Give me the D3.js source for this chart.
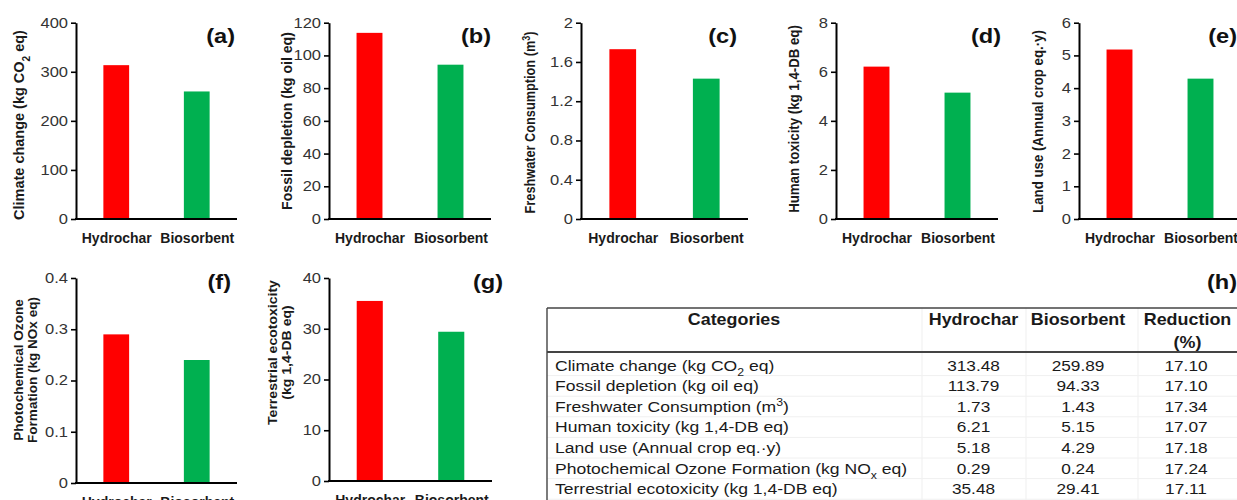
<!DOCTYPE html>
<html>
<head>
<meta charset="utf-8">
<script src="https://cdn.jsdelivr.net/npm/d3@7"></script>
<style>
  body { margin: 0; background: #fff; }
  svg { display: block; font-family: "Liberation Sans", Arial, sans-serif; }
</style>
</head>
<body>
<svg id="chart" width="1237" height="500"></svg>
<script>
// ---- data ----
const materials = ["Hydrochar", "Biosorbent"];
const climateChange = [313.48, 259.89];
const fossilDepletion = [113.79, 94.33];
const freshwaterUse = [1.73, 1.43];
const humanToxicity = [6.21, 5.15];
const landUse = [5.18, 4.29];
const ozoneFormation = [0.29, 0.24];
const terrestrialEcotox = [35.48, 29.41];
const reductionPct = [17.10, 17.10, 17.34, 17.07, 17.18, 17.24, 17.11];

const climateTicks = [0, 100, 200, 300, 400];
const fossilTicks = [0, 20, 40, 60, 80, 100, 120];
const freshwaterTicks = [0, 0.4, 0.8, 1.2, 1.6, 2];
const humanTicks = [0, 2, 4, 6, 8];
const landTicks = [0, 1, 2, 3, 4, 5, 6];
const ozoneTicks = [0, 0.1, 0.2, 0.3, 0.4];
const ecotoxTicks = [0, 10, 20, 30, 40];

// _{..} = subscript, ^{..} = superscript
const impactCategories = [
  "Climate change (kg CO_{2} eq)",
  "Fossil depletion (kg oil eq)",
  "Freshwater Consumption (m^{3})",
  "Human toxicity (kg 1,4-DB eq)",
  "Land use (Annual crop eq.\u00b7y)",
  "Photochemical Ozone Formation (kg NO_{x} eq)",
  "Terrestrial ecotoxicity (kg 1,4-DB eq)"
];
const tableHeaders = ["Categories", "Hydrochar", "Biosorbent", "Reduction"];

// ---- styling / layout ----
const RED = "#ff0000", GREEN = "#00b050";
const TEXT = "#1a1a1a";
const SX = 1.18; // horizontal glyph stretch of the lettering

const svg = d3.select("#chart");

function richText(sel, str) {
  const parts = str.split(/(_\{[^}]*\}|\^\{[^}]*\})/).filter(s => s.length);
  parts.forEach(p => {
    if (p.startsWith("_{")) {
      sel.append("tspan").attr("baseline-shift", "sub").attr("font-size", "70%").text(p.slice(2, -1));
    } else if (p.startsWith("^{")) {
      sel.append("tspan").attr("baseline-shift", "super").attr("font-size", "70%").text(p.slice(2, -1));
    } else {
      sel.append("tspan").text(p);
    }
  });
  return sel;
}

function stretched(parent, x, y, str, o) {
  const g = parent.append("g").attr("transform", `translate(${x},${y}) scale(${o.sx || SX},1)`);
  const t = g.append("text")
    .attr("text-anchor", o.anchor || "start")
    .attr("font-size", o.size)
    .attr("font-weight", o.weight || "normal")
    .attr("fill", o.fill || TEXT);
  richText(t, str);
  return t;
}

const panels = [
  { key: "(a)", values: climateChange, ticks: climateTicks, title: ["Climate change (kg CO_{2} eq)"],
    x0: 76, x1: 237, yTop: 22.7, yZero: 219, tx: [24], ty: 125, tlen: 190, lx: 235, ly: 43 },
  { key: "(b)", values: fossilDepletion, ticks: fossilTicks, title: ["Fossil depletion (kg oil eq)"],
    x0: 329, x1: 491, yTop: 22.7, yZero: 219, tx: [292], ty: 121, tlen: 178, lx: 491, ly: 43 },
  { key: "(c)", values: freshwaterUse, ticks: freshwaterTicks, title: ["Freshwater Consumption (m^{3})"],
    x0: 581, x1: 748, yTop: 22.7, yZero: 219, tx: [535], ty: 122.5, tlen: 182, lx: 737, ly: 43 },
  { key: "(d)", values: humanToxicity, ticks: humanTicks, title: ["Human toxicity  (kg 1,4-DB eq)"],
    x0: 836, x1: 998, yTop: 22.7, yZero: 219, tx: [799], ty: 119, tlen: 188, lx: 1001, ly: 43 },
  { key: "(e)", values: landUse, ticks: landTicks, title: ["Land use (Annual crop eq.\u00b7y)"],
    x0: 1079, x1: 1241, yTop: 22.7, yZero: 219, tx: [1043], ty: 121.5, tlen: 183, lx: 1237, ly: 43 },
  { key: "(f)", values: ozoneFormation, ticks: ozoneTicks, title: ["Photochemical Ozone", "Formation (kg NOx eq)"],
    x0: 76, x1: 237, yTop: 278, yZero: 483, tx: [23, 36.5], ty: 370, tlen: 146, lx: 231, ly: 289 },
  { key: "(g)", values: terrestrialEcotox, ticks: ecotoxTicks, title: ["Terrestrial ecotoxicity", "(kg 1,4-DB eq)"],
    x0: 329, x1: 492, yTop: 278, yZero: 481, tx: [276.5, 290.5], ty: 352.5, tlen: 145, lx: 503, ly: 289 }
];

panels.forEach(p => {
  const g = svg.append("g");
  const x = d3.scalePoint().domain(materials).range([p.x0, p.x1]).padding(0.5);
  const y = d3.scaleLinear().domain([0, d3.max(p.ticks)]).range([p.yZero, p.yTop]);
  const bw = x.step() * 0.32;

  // bars
  g.selectAll("rect").data(materials).join("rect")
    .attr("x", d => x(d) - bw / 2)
    .attr("y", (d, i) => y(p.values[i]))
    .attr("width", bw)
    .attr("height", (d, i) => y(0) - y(p.values[i]))
    .attr("fill", (d, i) => i === 0 ? RED : GREEN);

  // y axis
  const ya = g.append("g").attr("transform", `translate(${p.x0},0)`)
    .call(d3.axisLeft(y).tickValues(p.ticks).tickFormat(d => String(d)).tickSize(5).tickSizeOuter(0).tickPadding(3));
  ya.select(".domain").attr("stroke", "#000").attr("stroke-width", 2);
  ya.selectAll(".tick line").attr("stroke", "#000").attr("stroke-width", 1.6);
  ya.selectAll(".tick text")
    .attr("font-size", 14).attr("fill", "#333").attr("font-family", null)
    .attr("transform", `translate(-8,0) scale(${SX},1)`).attr("x", 0);

  // x axis with material labels
  const xa = g.append("g").attr("transform", `translate(0,${p.yZero})`)
    .call(d3.axisBottom(x).tickSize(0).tickSizeOuter(0).tickPadding(14));
  xa.select(".domain").attr("stroke", "#000").attr("stroke-width", 2)
    .attr("d", `M${p.x0 - 1},0H${p.x1}`);
  xa.selectAll(".tick text")
    .attr("font-size", 14).attr("font-weight", "bold").attr("fill", TEXT).attr("font-family", null);

  // axis title (rotated, condensed to its printed length)
  const single = p.title.length === 1;
  const titles = p.title.map((line, i) => {
    const t = svg.append("text")
      .attr("text-anchor", "middle")
      .attr("font-size", single ? 14.5 : 13.5).attr("font-weight", "bold").attr("fill", TEXT);
    richText(t, line);
    return { t, i };
  });
  const maxLen = d3.max(titles, d => d.t.node().getComputedTextLength());
  const s = p.tlen / maxLen;
  titles.forEach(({ t, i }) => t.attr("transform", `translate(${p.tx[i]},${p.ty}) rotate(-90) scale(${s.toFixed(3)},1)`));

  // panel key
  stretched(svg, p.lx, p.ly, p.key, { anchor: "end", size: 20, weight: "bold", sx: 1.18, fill: "#111" });
});

// ---- table (h) ----
stretched(svg, 1237, 289, "(h)", { anchor: "end", size: 20, weight: "bold", sx: 1.18, fill: "#111" });

const tbl = svg.append("g");
const tLeft = 547, tRight = 1245, tTop = 308, tHead = 352, rowH = 20.6, rowStart = 355;
const colLines = [922, 1026, 1138];
const colCenters = [973.5, 1078, 1186];
const tBottom = 520;

// faint grid
colLines.forEach(cx => tbl.append("line").attr("x1", cx).attr("x2", cx).attr("y1", tTop).attr("y2", tBottom)
  .attr("stroke", "#efefef").attr("stroke-width", 1));
impactCategories.forEach((c, i) => {
  const yb = rowStart + rowH * (i + 1);
  tbl.append("line").attr("x1", tLeft).attr("x2", tRight).attr("y1", yb).attr("y2", yb)
    .attr("stroke", "#f0f0f0").attr("stroke-width", 1);
});

// borders
tbl.append("line").attr("x1", tLeft).attr("x2", tRight).attr("y1", tTop).attr("y2", tTop)
  .attr("stroke", "#444").attr("stroke-width", 1.4);
tbl.append("line").attr("x1", tLeft).attr("x2", tLeft).attr("y1", tTop).attr("y2", tBottom)
  .attr("stroke", "#444").attr("stroke-width", 1.4);
tbl.append("line").attr("x1", tLeft).attr("x2", tRight).attr("y1", tHead).attr("y2", tHead)
  .attr("stroke", "#444").attr("stroke-width", 2.2);

// header
stretched(tbl, 734, 325, tableHeaders[0], { anchor: "middle", size: 16, weight: "bold", sx: 1.12 });
tableHeaders.slice(1).forEach((h, i) => {
  stretched(tbl, colCenters[i] + (i === 2 ? 1.5 : 0), 325, h, { anchor: "middle", size: 16, weight: "bold", sx: 1.12 });
});
stretched(tbl, colCenters[2] + 1.5, 347.5, "(%)", { anchor: "middle", size: 16, weight: "bold", sx: 1.12 });

// body rows
const fmt = d3.format(".2f");
const impactSeries = [climateChange, fossilDepletion, freshwaterUse, humanToxicity, landUse, ozoneFormation, terrestrialEcotox];
impactCategories.forEach((c, i) => {
  const yb = rowStart + rowH * i + rowH / 2 + 5.2;
  stretched(tbl, 555, yb, c, { size: 15, sx: 1.17 });
  stretched(tbl, colCenters[0], yb, fmt(impactSeries[i][0]), { anchor: "middle", size: 15, sx: 1.15 });
  stretched(tbl, colCenters[1], yb, fmt(impactSeries[i][1]), { anchor: "middle", size: 15, sx: 1.15 });
  stretched(tbl, colCenters[2], yb, fmt(reductionPct[i]), { anchor: "middle", size: 15, sx: 1.15 });
});
</script>
</body>
</html>
